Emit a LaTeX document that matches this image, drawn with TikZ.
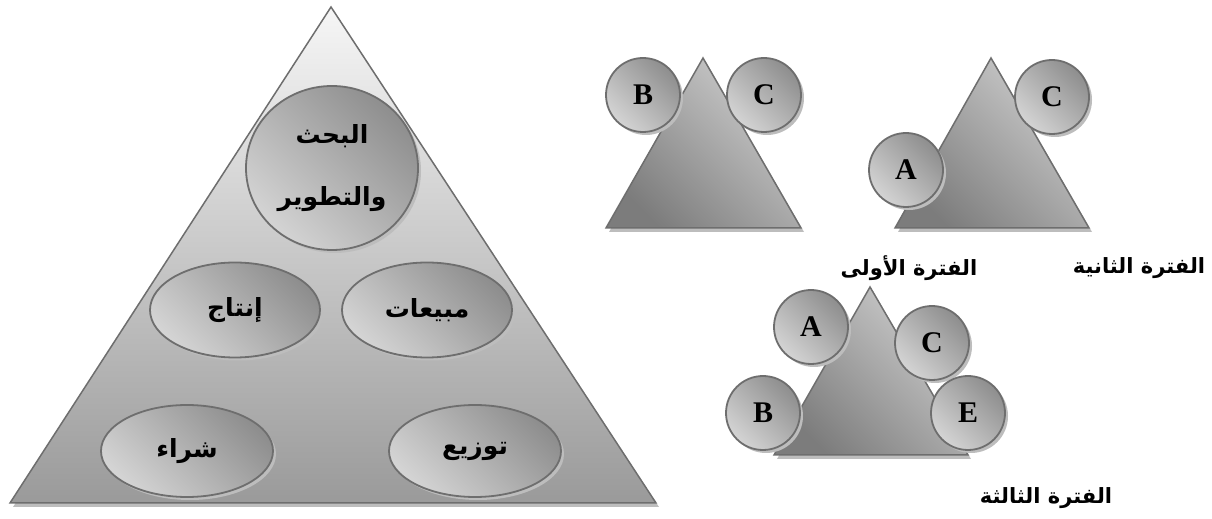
\documentclass[tikz,border=0pt]{standalone}
\usepackage{fontspec}
\setmainfont{Liberation Serif}
\newfontfamily\arabicfont[Script=Arabic]{DejaVu Sans}
\TeXXeTstate=1
\usetikzlibrary{shapes.geometric,shadows}

\definecolor{edgegray}{HTML}{6E6E6E}
\definecolor{shadowgray}{HTML}{BDBDBD}
\definecolor{bigtop}{HTML}{F6F6F6}
\definecolor{bigmid}{HTML}{C9C9C9}
\definecolor{bigbot}{HTML}{9A9A9A}
\definecolor{balllight}{HTML}{D4D4D4}
\definecolor{balldark}{HTML}{8E8E8E}
\definecolor{tridark}{HTML}{7C7C7C}
\definecolor{trimid}{HTML}{C2C2C2}
\definecolor{trilight}{HTML}{CECECE}

\tikzset{
  ballshade/.style={draw=edgegray, line width=1.8pt,
    left color=balllight, right color=balldark, shading angle=135,
    drop shadow={shadow xshift=3pt, shadow yshift=-3pt, fill=shadowgray, opacity=1}},
  ball/.style={ballshade, circle, minimum size=74pt, inner sep=0pt,
    font=\fontsize{30}{30}\selectfont\bfseries},
  oval/.style={ballshade, ellipse, inner sep=0pt,
    font=\arabicfont\fontsize{25}{30}\selectfont\bfseries},
  period/.style={font=\arabicfont\fontsize{21}{26}\selectfont\bfseries},
  smalltri/.style={draw=edgegray, line width=1.5pt, line join=miter,
    left color=tridark, middle color=trimid, right color=trilight, shading angle=135},
}

\begin{document}
\begin{tikzpicture}[x=1pt,y=1pt]
\useasboundingbox (0,0) rectangle (1212,519);

% ---------- large pyramid ----------
\coordinate (P1) at (331,512);
\coordinate (P2) at (10,16);
\coordinate (P3) at (656,16);
\fill[shadowgray] ([shift={(3,-4)}]P1) -- ([shift={(3,-4)}]P2) -- ([shift={(3,-4)}]P3) -- cycle;
\shade[draw=edgegray, line width=1.5pt, top color=bigtop, middle color=bigmid, bottom color=bigbot]
  (P1) -- (P2) -- (P3) -- cycle;

\node[oval, minimum width=172pt, minimum height=164pt, align=center,
      font=\arabicfont\fontsize{25}{62}\selectfont\bfseries] (rd) at (332,351)
  {\beginR البحث\endR\\\beginR والتطوير\endR};
\node[oval, minimum width=170pt, minimum height=95pt] (prod) at (235,209) {\beginR إنتاج\endR};
\node[oval, minimum width=170pt, minimum height=95pt] (sales) at (427,209) {\beginR مبيعات\endR};
\node[oval, minimum width=172pt, minimum height=92pt] (buy) at (187,68) {\beginR شراء\endR};
\node[oval, minimum width=172pt, minimum height=92pt] (dist) at (475,68) {\beginR توزيع\endR};

% ---------- first period ----------
\coordinate (Ta) at (703,461);
\coordinate (Tb) at (606,291);
\coordinate (Tc) at (801,291);
\fill[shadowgray] ([shift={(3,-4)}]Ta) -- ([shift={(3,-4)}]Tb) -- ([shift={(3,-4)}]Tc) -- cycle;
\shade[smalltri] (Ta) -- (Tb) -- (Tc) -- cycle;
\node[ball] (b1) at (643,424) {B};
\node[ball] (c1) at (764,424) {C};

% ---------- second period ----------
\coordinate (Ua) at (991,461);
\coordinate (Ub) at (895,291);
\coordinate (Uc) at (1089,291);
\fill[shadowgray] ([shift={(3,-4)}]Ua) -- ([shift={(3,-4)}]Ub) -- ([shift={(3,-4)}]Uc) -- cycle;
\shade[smalltri] (Ua) -- (Ub) -- (Uc) -- cycle;
\node[ball] (c2) at (1052,422) {C};
\node[ball] (a2) at (906,349) {A};

% ---------- third period ----------
\coordinate (Va) at (870,232);
\coordinate (Vb) at (774,64);
\coordinate (Vc) at (968,64);
\fill[shadowgray] ([shift={(3,-4)}]Va) -- ([shift={(3,-4)}]Vb) -- ([shift={(3,-4)}]Vc) -- cycle;
\shade[smalltri] (Va) -- (Vb) -- (Vc) -- cycle;
\node[ball] (a3) at (811,192) {A};
\node[ball] (c3) at (932,176) {C};
\node[ball] (b3) at (763,106) {B};
\node[ball] (e3) at (968,106) {E};

% ---------- period labels ----------
\node[period] (l1) at (909,251) {\beginR الفترة الأولى\endR};
\node[period] (l2) at (1139,251) {\beginR الفترة الثانية\endR};
\node[period] (l3) at (1046,21) {\beginR الفترة الثالثة\endR};
\end{tikzpicture}
\end{document}
